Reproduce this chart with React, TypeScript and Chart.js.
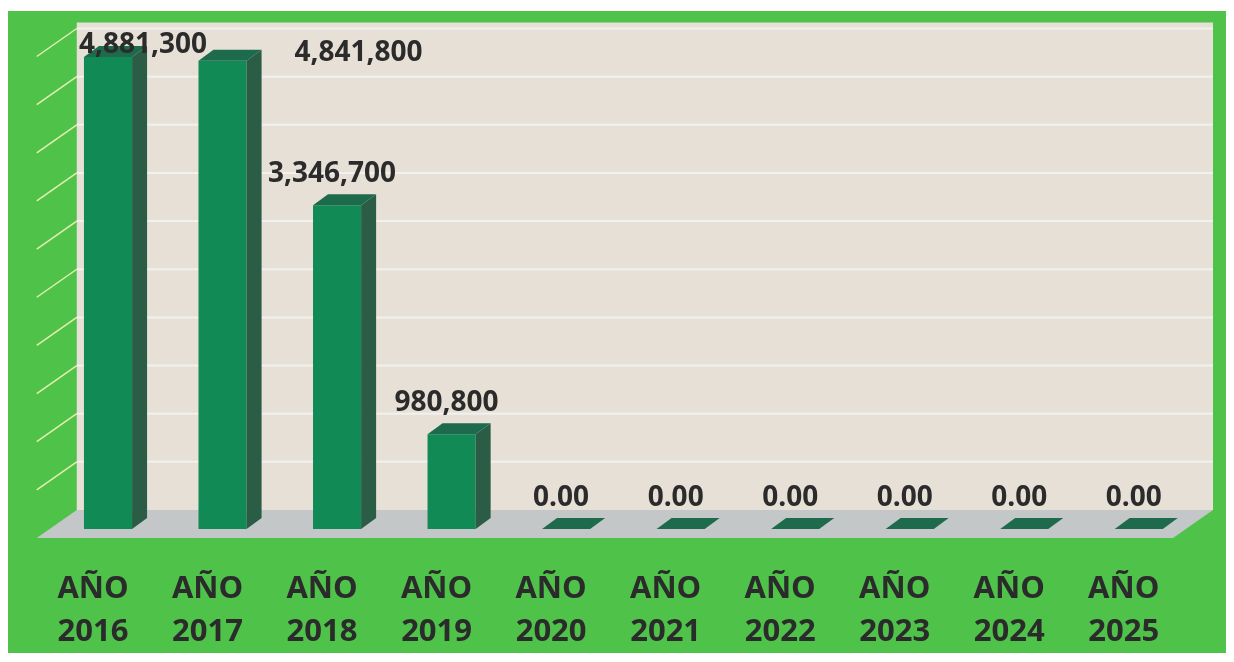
import React, { useEffect, useRef } from "react";
import { Chart, registerables } from "chart.js";

Chart.register(...registerables);

// ---- data ----
const years = ["2016", "2017", "2018", "2019", "2020", "2021", "2022", "2023", "2024", "2025"];
const categoryLabels = years.map((y) => ["AÑO", y]);
const amounts = [4881300, 4841800, 3346700, 980800, 0, 0, 0, 0, 0, 0];
const axisMax = 5000000;
const axisStep = 500000;

// ---- style ----
const PANEL_GREEN = "#4fc24a";
const WALL_BEIGE = "#e7e0d7";
const WALL_GRID = "#f1f1ef";
const SIDE_GRID = "#e4f0b0";
const FLOOR_GREY = "#c4c7c7";
const BAR_FRONT = "#118a55";
const BAR_SIDE = "#2b5c46";
const BAR_TOP = "#1d6b4c";
const TEXT_DARK = "#2b2b2b";
const FONT = "'Open Sans', 'Noto Sans', sans-serif";

// label nudges (style only) for labels moved by hand in the original
const labelNudges: Record<number, [number, number]> = { 0: [40, 19], 1: [141, 23] };

const fmt = (v: number) => (v === 0 ? "0.00" : v.toLocaleString("en-US"));

const scene3d = {
  id: "scene3d",
  beforeDraw(chart: any) {
    const ctx = chart.ctx as CanvasRenderingContext2D;
    const { left, right, top, bottom } = chart.chartArea;
    const ys = chart.scales.y;
    ctx.save();
    ctx.fillStyle = PANEL_GREEN;
    ctx.fillRect(0, 3, chart.width, chart.height - 4);

    const backL = left + 26;
    const backR = right + 17;
    const backTop = top - 23;
    const backBottom = bottom - 19;
    const dX = 40;
    const dY = 28;

    ctx.fillStyle = WALL_BEIGE;
    ctx.fillRect(backL, backTop, backR - backL, backBottom - backTop);

    for (let v = axisStep; v <= axisMax + 1; v += axisStep) {
      const yb = ys.getPixelForValue(v) - 19 + 2 * (v / axisMax);
      ctx.strokeStyle = WALL_GRID;
      ctx.lineWidth = 2;
      ctx.beginPath();
      ctx.moveTo(backL, yb);
      ctx.lineTo(backR, yb);
      ctx.stroke();
      ctx.strokeStyle = SIDE_GRID;
      ctx.lineWidth = 1.5;
      ctx.beginPath();
      ctx.moveTo(backL, yb);
      ctx.lineTo(backL - dX, yb + dY);
      ctx.stroke();
    }

    ctx.fillStyle = FLOOR_GREY;
    ctx.beginPath();
    ctx.moveTo(backL - dX, backBottom + dY);
    ctx.lineTo(backR - dX, backBottom + dY);
    ctx.lineTo(backR, backBottom);
    ctx.lineTo(backL, backBottom);
    ctx.closePath();
    ctx.fill();
    ctx.restore();
  },
  afterDatasetsDraw(chart: any) {
    const ctx = chart.ctx as CanvasRenderingContext2D;
    const meta = chart.getDatasetMeta(0);
    const data = chart.data.datasets[0].data as number[];
    const bx = 15;
    const by = -11;
    ctx.save();
    meta.data.forEach((el: any) => {
      const w = el.width;
      const x0 = el.x - w / 2;
      const x1 = el.x + w / 2;
      const y = el.y;
      const base = el.base;
      if (base - y > 0.5) {
        ctx.fillStyle = BAR_SIDE;
        ctx.beginPath();
        ctx.moveTo(x1, y);
        ctx.lineTo(x1 + bx, y + by);
        ctx.lineTo(x1 + bx, base + by);
        ctx.lineTo(x1, base);
        ctx.closePath();
        ctx.fill();
      }
      ctx.fillStyle = BAR_TOP;
      ctx.beginPath();
      ctx.moveTo(x0, y);
      ctx.lineTo(x1, y);
      ctx.lineTo(x1 + bx, y + by);
      ctx.lineTo(x0 + bx, y + by);
      ctx.closePath();
      ctx.fill();
    });
    ctx.fillStyle = TEXT_DARK;
    ctx.font = `bold 28px ${FONT}`;
    ctx.textAlign = "center";
    ctx.textBaseline = "middle";
    meta.data.forEach((el: any, i: number) => {
      const n = labelNudges[i] || [0, 0];
      ctx.fillText(fmt(data[i]), el.x - 5 + n[0], el.y - 31 + n[1]);
    });
    ctx.restore();
  },
};

export default function App() {
  const ref = useRef<HTMLCanvasElement | null>(null);
  useEffect(() => {
    if (!ref.current) return;
    const chart = new Chart(ref.current, {
      type: "bar",
      data: {
        labels: categoryLabels,
        datasets: [
          {
            data: amounts,
            backgroundColor: BAR_FRONT,
            borderWidth: 0,
            barPercentage: 0.42,
            categoryPercentage: 1,
          },
        ],
      },
      options: {
        responsive: false,
        animation: false,
        devicePixelRatio: 1,
        layout: { padding: { top: 37.5, left: 42.75, right: 38, bottom: 0 } },
        plugins: { legend: { display: false }, tooltip: { enabled: false } },
        scales: {
          x: {
            grid: { display: false, drawTicks: false },
            border: { display: false },
            ticks: {
              color: TEXT_DARK,
              font: { family: FONT, size: 31, weight: "bold", lineHeight: 1.4 },
              padding: 38,
              labelOffset: -15,
              maxRotation: 0,
              autoSkip: false,
            },
            afterFit: (s: any) => {
              s.height = 125;
            },
          },
          y: {
            display: false,
            min: 0,
            max: axisMax,
            ticks: { stepSize: axisStep },
          },
        },
      },
      plugins: [scene3d],
    } as any);
    return () => chart.destroy();
  }, []);
  return (
    <div style={{ width: 1226, height: 646 }}>
      <canvas ref={ref} width={1226} height={646} style={{ display: "block", width: 1226, height: 646 }} />
    </div>
  );
}
